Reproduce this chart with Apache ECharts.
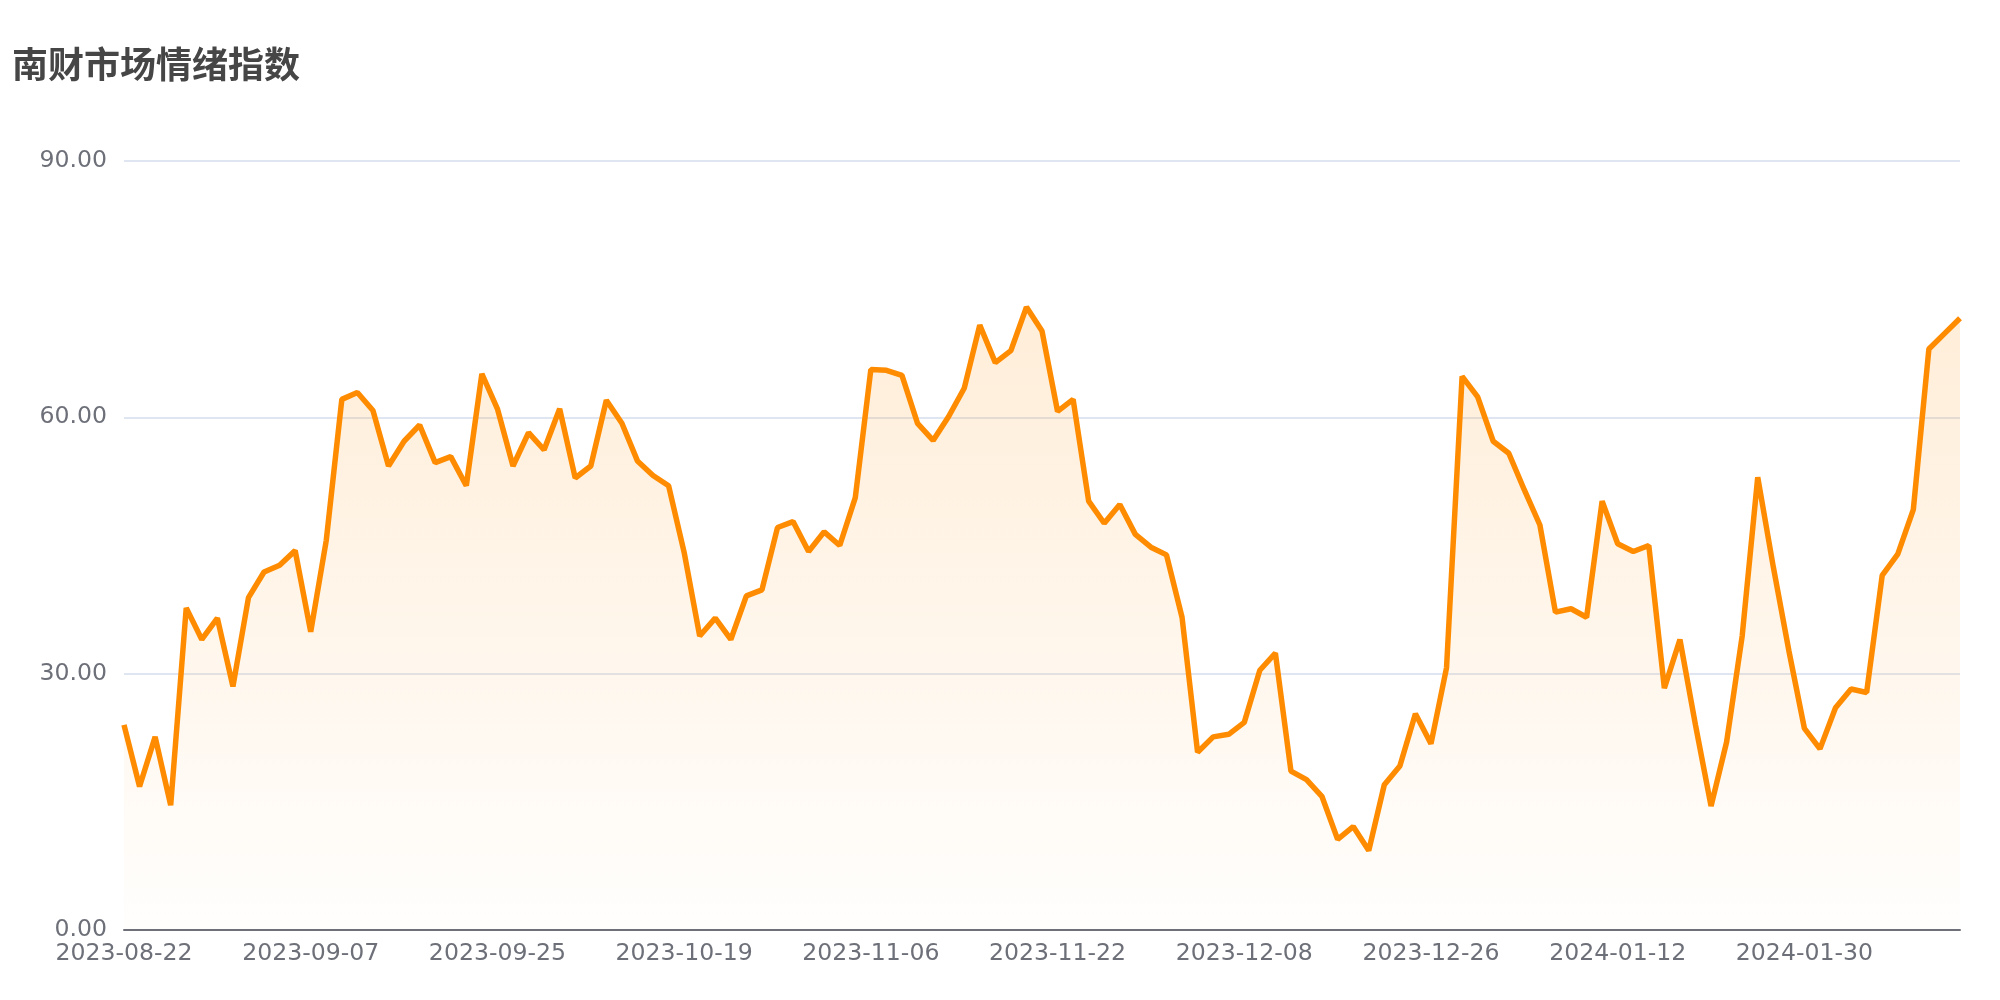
<!DOCTYPE html>
<html>
<head>
<meta charset="utf-8">
<script src="https://cdn.jsdelivr.net/npm/echarts@6/dist/echarts.min.js"></script>
<style>
html,body{margin:0;padding:0;background:#fff;}
#chart{width:2000px;height:1000px;}
</style>
</head>
<body>
<div id="chart"></div>
<script>
const chartTitle = '南财市场情绪指数';
const dates = [
'2023-08-22','2023-08-23','2023-08-24','2023-08-25','2023-08-28','2023-08-29','2023-08-30','2023-08-31',
'2023-09-01','2023-09-04','2023-09-05','2023-09-06','2023-09-07','2023-09-08','2023-09-11','2023-09-12',
'2023-09-13','2023-09-14','2023-09-15','2023-09-18','2023-09-19','2023-09-20','2023-09-21','2023-09-22',
'2023-09-25','2023-09-26','2023-09-27','2023-09-28','2023-10-09','2023-10-10','2023-10-11','2023-10-12',
'2023-10-13','2023-10-16','2023-10-17','2023-10-18','2023-10-19','2023-10-20','2023-10-23','2023-10-24',
'2023-10-25','2023-10-26','2023-10-27','2023-10-30','2023-10-31','2023-11-01','2023-11-02','2023-11-03',
'2023-11-06','2023-11-07','2023-11-08','2023-11-09','2023-11-10','2023-11-13','2023-11-14','2023-11-15',
'2023-11-16','2023-11-17','2023-11-20','2023-11-21','2023-11-22','2023-11-23','2023-11-24','2023-11-27',
'2023-11-28','2023-11-29','2023-11-30','2023-12-01','2023-12-04','2023-12-05','2023-12-06','2023-12-07',
'2023-12-08','2023-12-11','2023-12-12','2023-12-13','2023-12-14','2023-12-15','2023-12-18','2023-12-19',
'2023-12-20','2023-12-21','2023-12-22','2023-12-25','2023-12-26','2023-12-27','2023-12-28','2023-12-29',
'2024-01-02','2024-01-03','2024-01-04','2024-01-05','2024-01-08','2024-01-09','2024-01-10','2024-01-11',
'2024-01-12','2024-01-15','2024-01-16','2024-01-17','2024-01-18','2024-01-19','2024-01-22','2024-01-23',
'2024-01-24','2024-01-25','2024-01-26','2024-01-29','2024-01-30','2024-01-31','2024-02-01','2024-02-02',
'2024-02-05','2024-02-06','2024-02-07','2024-02-08','2024-02-19','2024-02-20','2024-02-21'
];
const sentiment = [
24.0,16.8,22.6,14.6,37.7,34.0,36.5,28.5,38.9,41.9,42.7,44.4,
34.9,45.6,62.1,62.9,60.8,54.3,57.2,59.1,54.7,55.4,52.0,65.1,
61.0,54.3,58.2,56.2,61.0,52.9,54.3,62.0,59.3,54.9,53.2,52.0,
44.2,34.4,36.5,34.0,39.1,39.8,47.1,47.8,44.3,46.6,45.0,50.6,
65.6,65.5,64.9,59.3,57.3,60.1,63.4,70.8,66.4,67.8,72.9,70.1,
60.7,62.1,50.2,47.6,49.8,46.3,44.8,43.9,36.6,20.8,22.6,22.9,
24.3,30.4,32.4,18.6,17.6,15.6,10.6,12.1,9.3,17.0,19.2,25.3,
21.8,30.7,64.8,62.4,57.2,55.8,51.5,47.4,37.2,37.6,36.6,50.2,
45.2,44.3,45.0,28.3,34.0,24.0,14.5,22.0,34.4,53.0,42.5,32.7,
23.6,21.2,26.0,28.2,27.8,41.5,44.0,49.2,68.0,69.8,71.6
];
const yTicks = [0, 30, 60, 90];

const chart = echarts.init(document.getElementById('chart'));
chart.setOption({
  backgroundColor: '#ffffff',
  animation: false,
  title: {
    text: chartTitle,
    left: 7,
    top: 41,
    textStyle: {
      fontFamily: 'Noto Sans CJK SC',
      fontSize: 36,
      fontWeight: 'bold',
      color: '#464646'
    }
  },
  grid: { left: 124, right: 40, top: 161, bottom: 70, containLabel: false },
  xAxis: {
    type: 'category',
    data: dates,
    boundaryGap: false,
    axisLine: { lineStyle: { color: '#6E7079', width: 2 } },
    axisTick: { show: false },
    axisLabel: {
      interval: 11,
      color: '#6E7079',
      fontFamily: 'DejaVu Sans',
      fontSize: 23.6,
      margin: 12
    }
  },
  yAxis: {
    type: 'value',
    min: yTicks[0],
    max: yTicks[yTicks.length - 1],
    interval: 30,
    axisLine: { show: false },
    axisTick: { show: false },
    splitLine: { lineStyle: { color: '#E0E6F1', width: 2 } },
    axisLabel: {
      color: '#6E7079',
      fontFamily: 'DejaVu Sans',
      fontSize: 23.6,
      margin: 17,
      formatter: v => v.toFixed(2)
    }
  },
  series: [{
    type: 'line',
    data: sentiment,
    showSymbol: false,
    symbol: 'none',
    lineStyle: { color: '#FF8C00', width: 5.5 },
    itemStyle: { color: '#FF8C00' },
    areaStyle: {
      color: new echarts.graphic.LinearGradient(0, 0, 0, 1, [
        { offset: 0, color: 'rgba(255,140,0,0.22)' },
        { offset: 1, color: 'rgba(255,140,0,0.01)' }
      ])
    }
  }]
});
</script>
</body>
</html>
